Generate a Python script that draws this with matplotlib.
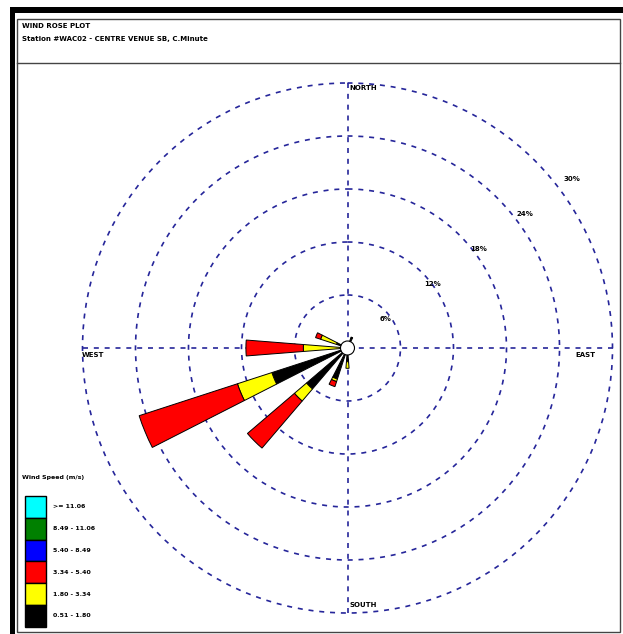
import numpy as np
import matplotlib
matplotlib.use("Agg")
import matplotlib.pyplot as plt
from matplotlib.patches import Rectangle, Circle
from matplotlib.lines import Line2D

# ---------------- data ----------------
directions = ['N', 'NNE', 'NE', 'ENE', 'E', 'ESE', 'SE', 'SSE',
              'S', 'SSW', 'SW', 'WSW', 'W', 'WNW', 'NW', 'NNW']
direction_deg = [0, 22.5, 45, 67.5, 90, 112.5, 135, 157.5,
                 180, 202.5, 225, 247.5, 270, 292.5, 315, 337.5]

speed_bins = ['0.51 - 1.80', '1.80 - 3.34', '3.34 - 5.40',
              '5.40 - 8.49', '8.49 - 11.06', '>= 11.06']
bin_colors = ['#000000', '#ffff00', '#ff0000', '#0000ff', '#008000', '#00ffff']

# frequency (%) per direction for each speed class
freq_051_180 = [0, 1.3, 0, 0, 0, 0, 0, 0, 1.55, 3.7, 6.1, 9.0, 0.8, 1.3, 0, 0]
freq_180_334 = [0, 0, 0, 0, 0, 0, 0, 0, 0.75, 0.3, 1.8, 4.1, 4.2, 1.9, 0, 0]
freq_334_540 = [0, 0, 0, 0, 0, 0, 0, 0, 0, 0.6, 7.0, 11.7, 6.5, 0.6, 0, 0]
freq_540_849 = [0] * 16
freq_849_1106 = [0] * 16
freq_ge_1106 = [0] * 16

ring_values = [6, 12, 18, 24, 30]
ring_labels = ['6%', '12%', '18%', '24%', '30%']

title_line1 = 'WIND ROSE PLOT'
title_line2 = 'Station #WAC02 - CENTRE VENUE SB, C.Minute'
legend_title = 'Wind Speed (m/s)'

# ---------------- figure ----------------
W, H = 623, 634
fig = plt.figure(figsize=(W / 100, H / 100), dpi=100)
fig.patch.set_facecolor('white')


def fx(px):
    return px / W


def fy(py):
    return 1 - py / H


# frame
fig.add_artist(Rectangle((fx(10), fy(634)), 5 / W, (634 - 7) / H,
                         transform=fig.transFigure, color='black', lw=0))
fig.add_artist(Rectangle((fx(10), fy(13)), (623 - 10) / W, 6 / H,
                         transform=fig.transFigure, color='black', lw=0))
fig.add_artist(Rectangle((fx(17), fy(632)), (620 - 17) / W, (632 - 19) / H,
                         transform=fig.transFigure, fill=False,
                         edgecolor='#444444', lw=1.0))
fig.add_artist(Line2D([fx(17), fx(620)], [fy(63), fy(63)],
                      transform=fig.transFigure, color='#444444', lw=1.0))

fig.text(fx(22), fy(26), title_line1, fontsize=5, fontweight='bold',
         ha='left', va='center')
fig.text(fx(22), fy(39), title_line2, fontsize=5, fontweight='bold',
         ha='left', va='center')

# polar axes
rmax = 30.5
cx, cy = 347.5, 348.0
R = 265.0 * rmax / 30.0
ax = fig.add_axes([(cx - R) / W, (H - cy - R) / H, 2 * R / W, 2 * R / H],
                  projection='polar')
ax.set_theta_zero_location('N')
ax.set_theta_direction(-1)
ax.set_ylim(0, rmax)
ax.set_yticks(ring_values)
ax.set_yticklabels([])
ax.set_xticks(np.radians([0, 90, 180, 270]))
ax.set_xticklabels([])
ax.tick_params(length=0)
ax.spines['polar'].set_visible(False)
ax.set_facecolor('white')
navy = '#26269a'
ax.grid(True, color=navy, linestyle=(0, (3, 3.5)), linewidth=1.2)
ax.set_axisbelow(True)

theta = np.radians(direction_deg)
series = [freq_051_180, freq_180_334, freq_334_540,
          freq_540_849, freq_849_1106, freq_ge_1106]
bottom = np.zeros(len(directions))
for vals, col in zip(series, bin_colors):
    vals = np.array(vals, dtype=float)
    m = vals > 0
    if m.any():
        ax.bar(theta[m], vals[m], width=np.radians(9), bottom=bottom[m],
               color=col, edgecolor='black', linewidth=0.7, zorder=3)
    bottom += vals

ax.add_patch(Circle((0.5, 0.5), 7 / (2 * R), transform=ax.transAxes,
                    facecolor='white', edgecolor='black', lw=0.8, zorder=6))

for v, lab in zip(ring_values, ring_labels):
    ax.text(np.radians(53), 1.1 * v - 1.2, lab, fontsize=5, fontweight='bold',
            ha='center', va='center', zorder=7)

# compass labels
fig.text(fx(349), fy(88), 'NORTH', fontsize=5, fontweight='bold', ha='left', va='center')
fig.text(fx(82), fy(355), 'WEST', fontsize=5, fontweight='bold', ha='left', va='center')
fig.text(fx(575), fy(355), 'EAST', fontsize=5, fontweight='bold', ha='left', va='center')
fig.text(fx(349), fy(605), 'SOUTH', fontsize=5, fontweight='bold', ha='left', va='center')

# legend
fig.text(fx(22), fy(477), legend_title, fontsize=4.5, fontweight='bold',
         ha='left', va='center')
box_top = 496.0
box_h = 21.8
for i, (lab, col) in enumerate(zip(speed_bins[::-1], bin_colors[::-1])):
    y0 = box_top + i * box_h
    fig.add_artist(Rectangle((fx(25), fy(y0 + box_h)), 21 / W, box_h / H,
                             transform=fig.transFigure, facecolor=col,
                             edgecolor='black', lw=1.0))
    fig.text(fx(53), fy(y0 + box_h / 2), lab, fontsize=4.5, fontweight='bold',
             ha='left', va='center')

fig.savefig('out.png', dpi=100)
